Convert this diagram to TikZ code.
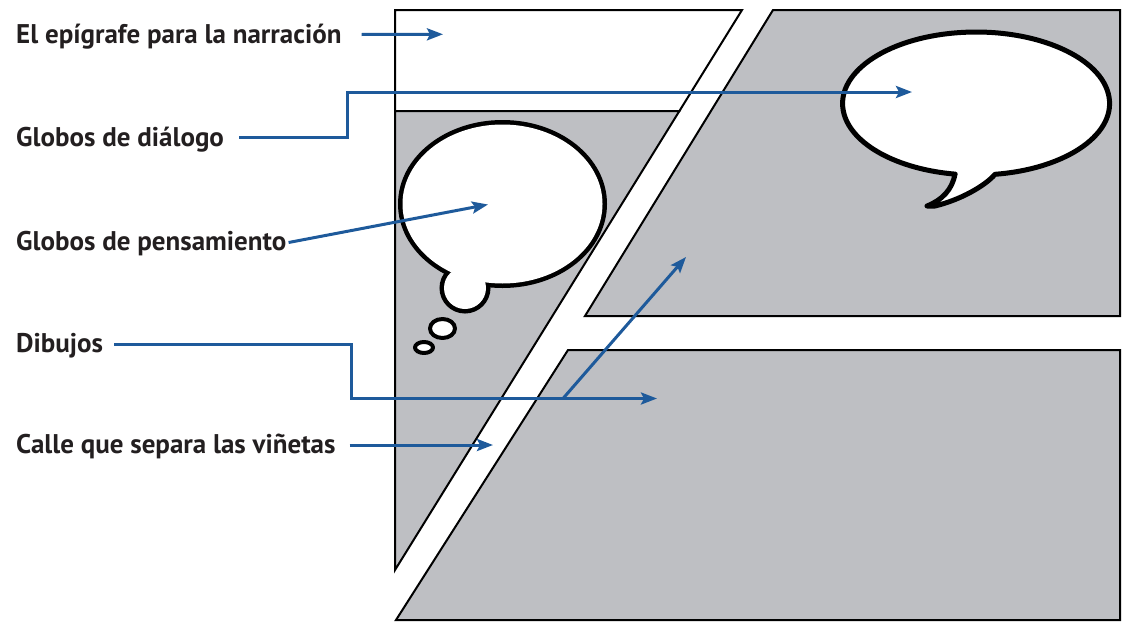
\documentclass[tikz,border=0pt]{standalone}
\usepackage{fontspec}
\setmainfont{PT Sans}
\usetikzlibrary{arrows.meta}
\definecolor{panelgray}{RGB}{190,191,195}
\definecolor{arrowblue}{RGB}{30,90,155}
\definecolor{textdark}{RGB}{35,31,32}
\begin{document}
\begin{tikzpicture}[x=1pt,y=-1pt,
  panel/.style={draw=black,line width=2pt,line join=miter},
  caption/.style={anchor=base west,inner sep=0pt,text=textdark,
    font=\fontsize{27}{32}\selectfont\bfseries},
  pointer/.style={draw=arrowblue,line width=3pt,
    -{Stealth[length=16pt,width=12pt,inset=3pt]}},
  bubble/.style={draw=black,line width=5pt,fill=white,line join=round}]
\useasboundingbox (0,0) rectangle (1126,621);

% panels
\draw[panel,fill=white] (395,10) -- (742,10) -- (679.4,111) -- (395,111) -- cycle;
\draw[panel,fill=panelgray] (395,111) -- (679.4,111) -- (395,570) -- cycle;
\draw[panel,fill=panelgray] (773,10) -- (1120,10) -- (1120,316) -- (585,316) -- cycle;
\draw[panel,fill=panelgray] (568,350) -- (1120,350) -- (1120,620) -- (396,620) -- cycle;

% thought bubble
\draw[line width=9pt] (502.5,204) ellipse [x radius=100, y radius=79.5];
\draw[line width=9pt] (465,288) circle [radius=21];
\fill[white] (502.5,204) ellipse [x radius=100, y radius=79.5];
\fill[white] (465,288) circle [radius=21];
\draw[bubble,line width=4pt] (442.5,328.5) ellipse [x radius=12.5, y radius=9.5];
\draw[bubble,line width=4pt] (424,347.5) ellipse [x radius=9, y radius=5.5];

% speech bubble
\draw[bubble] (955,174.1) .. controls (952,190) and (942,200) .. (927,206)
  -- (935,206) .. controls (960,200) and (985,186) .. (995,174.3)
  arc[start angle=81.85, end angle=-261, x radius=133.5, y radius=71.5] -- cycle;

% labels
\node[caption] (l1) at (16,43.5) {El epígrafe para la narración};
\node[caption] (l2) at (16,146.5) {Globos de diálogo};
\node[caption] (l3) at (16,250) {Globos de pensamiento};
\node[caption] (l4) at (16,352) {Dibujos};
\node[caption] (l5) at (16,453.5) {Calle que separa las viñetas};

% targets
\coordinate (t1) at (443,34.3);
\coordinate (t2) at (912,92);
\coordinate (t3) at (488,204.5);
\coordinate (t4) at (657,398.5);
\coordinate (t5) at (686,257);
\coordinate (t6) at (493,445);
\coordinate (fork) at (563,398.5);

% connectors
\draw[pointer] ([shift={(20,-9)}]l1.base east) -- (t1);
\draw[pointer] ([shift={(15,-9.5)}]l2.base east) -| (347,92) -- (t2);
\draw[pointer] ([shift={(2,-7.5)}]l3.base east) -- (t3);
\draw[pointer] ([shift={(11,-8)}]l4.base east) -| (351,398.5) -- (t4);
\draw[pointer] (fork) -- (t5);
\draw[pointer] ([shift={(14,-8.5)}]l5.base east) -- (t6);
\end{tikzpicture}
\end{document}
